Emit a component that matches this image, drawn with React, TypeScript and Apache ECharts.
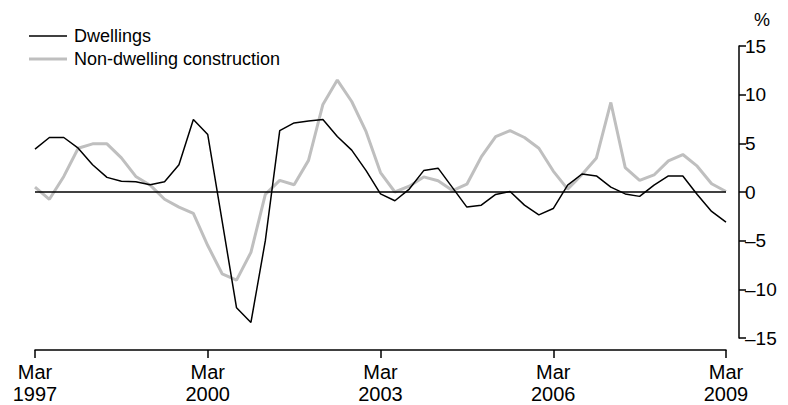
import React, { useEffect, useRef } from "react";
import * as echarts from "echarts";

const years = [1997, 1998, 1999, 2000, 2001, 2002, 2003, 2004, 2005, 2006, 2007, 2008, 2009];
const quarterNames = ["Mar", "Jun", "Sep", "Dec"];

const dwellings = [
  4.4, 5.6, 5.6, 4.5, 2.8, 1.5, 1.1, 1.05, 0.75, 1.05, 2.8, 7.45, 5.9,
  -3.0, -11.9, -13.4, -5.0, 6.3, 7.1, 7.3, 7.45, 5.7, 4.3, 2.2, -0.2,
  -0.9, 0.3, 2.2, 2.45, 0.45, -1.55, -1.35, -0.25, 0.05, -1.35, -2.35,
  -1.7, 0.7, 1.85, 1.65, 0.5, -0.2, -0.45, 0.7, 1.65, 1.65, -0.25, -2.0, -3.1,
];

const nonDwelling = [
  0.5, -0.75, 1.6, 4.5, 4.95, 4.95, 3.5, 1.6, 0.7, -0.75, -1.55, -2.2, -5.5,
  -8.4, -9.05, -6.2, -0.25, 1.2, 0.75, 3.25, 9.0, 11.5, 9.3, 6.2, 2.0,
  0.0, 0.6, 1.55, 1.15, 0.15, 0.8, 3.6, 5.7, 6.3, 5.6, 4.5, 2.15, 0.3,
  1.8, 3.5, 9.2, 2.5, 1.2, 1.75, 3.2, 3.85, 2.65, 0.85, 0.05,
];

const yTicks = { min: -15, max: 15, interval: 5 };

const categories: string[] = [];
for (let i = 0; i < dwellings.length; i++) {
  const y = years[0] + Math.floor(i / 4);
  categories.push(quarterNames[i % 4] + "\n" + y);
}

const FONT = "Liberation Sans";
const legendText = { fontFamily: FONT, fontSize: 18, color: "#000", padding: [0, 0, 0, 2] };

export default function App() {
  const ref = useRef<HTMLDivElement>(null);
  useEffect(() => {
    if (!ref.current) return;
    const chart = echarts.init(ref.current, null, { renderer: "svg" });
    chart.setOption({
      animation: false,
      textStyle: { fontFamily: FONT, color: "#000" },
      grid: { left: 35, right: 62, top: 46, bottom: 67 },
      legend: [
        {
          left: 24,
          top: 22,
          icon: "rect",
          itemWidth: 38,
          itemHeight: 1.5,
          textStyle: legendText,
          data: ["Dwellings"],
        },
        {
          left: 24,
          top: 45,
          icon: "rect",
          itemWidth: 38,
          itemHeight: 3,
          textStyle: legendText,
          data: ["Non-dwelling construction"],
        },
      ],
      xAxis: {
        type: "category",
        data: categories,
        boundaryGap: false,
        offset: 12,
        axisLine: { onZero: false, lineStyle: { color: "#000", width: 1.5 } },
        axisTick: { interval: 11, length: 8, lineStyle: { color: "#000", width: 1.5 } },
        axisLabel: {
          interval: 11,
          margin: 11,
          fontFamily: FONT,
          fontSize: 20,
          lineHeight: 22,
          color: "#000",
        },
        splitLine: { show: false },
      },
      yAxis: {
        type: "value",
        position: "right",
        offset: 13,
        min: yTicks.min,
        max: yTicks.max,
        interval: yTicks.interval,
        axisLine: { show: true, lineStyle: { color: "#000", width: 1.5 } },
        axisTick: { show: true, length: 7, lineStyle: { color: "#000", width: 1.5 } },
        axisLabel: {
          margin: 6,
          fontFamily: FONT,
          fontSize: 19,
          color: "#000",
          formatter: (v: number) => String(v).replace("-", "\u2013"),
        },
        splitLine: { show: false },
        name: "%",
        nameLocation: "end",
        nameGap: 17,
        nameTextStyle: { fontFamily: FONT, fontSize: 18, color: "#000", align: "left", padding: [0, 0, 0, 15] },
      },
      series: [
        {
          name: "Non-dwelling construction",
          type: "line",
          data: nonDwelling,
          symbol: "none",
          lineStyle: { color: "#bfbfbf", width: 3 },
          itemStyle: { color: "#bfbfbf" },
          z: 2,
        },
        {
          name: "Dwellings",
          type: "line",
          data: dwellings,
          symbol: "none",
          lineStyle: { color: "#000", width: 1.5 },
          itemStyle: { color: "#000" },
          z: 3,
          markLine: {
            silent: true,
            symbol: "none",
            label: { show: false },
            lineStyle: { color: "#000", width: 1.5, type: "solid" },
            data: [{ yAxis: 0 }],
          },
        },
      ],
    });
    return () => chart.dispose();
  }, []);
  return <div ref={ref} style={{ width: 788, height: 405, position: "absolute", left: 0, top: 0 }} />;
}
